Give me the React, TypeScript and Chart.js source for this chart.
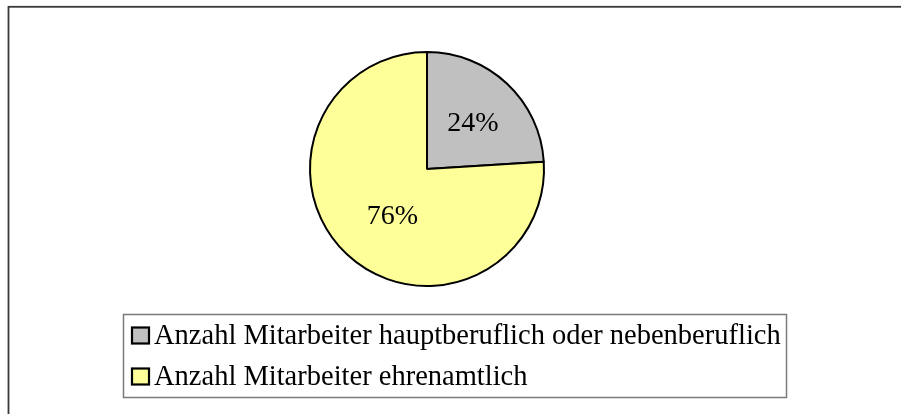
import React, { useEffect, useRef } from "react";
import { Chart, registerables } from "chart.js";

Chart.register(...registerables);

const categories = [
  "Anzahl Mitarbeiter hauptberuflich oder nebenberuflich",
  "Anzahl Mitarbeiter ehrenamtlich",
];
const shares = [24, 76];
const percentLabels = ["24%", "76%"];
const sliceColors = ["#C0C0C0", "#FFFF99"];

const FONT = "'Liberation Serif', 'Times New Roman', serif";

const framePlugin = {
  id: "frameAndLegend",
  beforeDraw(chart: any) {
    const ctx = chart.ctx;
    ctx.save();
    ctx.fillStyle = "#ffffff";
    ctx.fillRect(0, 0, chart.width, chart.height);
    ctx.strokeStyle = "#3a3a3a";
    ctx.lineWidth = 1.8;
    ctx.strokeRect(8.5, 6.8, chart.width + 20, chart.height + 20);
    ctx.restore();
  },
  afterDatasetsDraw(chart: any) {
    const ctx = chart.ctx;
    const meta = chart.getDatasetMeta(0);
    const factors = [0.56, 0.5];
    const angleShift = [0.02, -0.12];
    ctx.save();
    ctx.font = `28px ${FONT}`;
    ctx.fillStyle = "#000";
    ctx.textAlign = "center";
    ctx.textBaseline = "middle";
    meta.data.forEach((arc: any, i: number) => {
      const { x, y, startAngle, endAngle, outerRadius } = arc.getProps(
        ["x", "y", "startAngle", "endAngle", "outerRadius"],
        true
      );
      const mid = (startAngle + endAngle) / 2 + angleShift[i];
      const r = outerRadius * factors[i];
      ctx.fillText(percentLabels[i], x + Math.cos(mid) * r, y + Math.sin(mid) * r + 1);
    });
    ctx.restore();
  },
  afterDraw(chart: any) {
    const ctx = chart.ctx;
    ctx.save();
    ctx.font = `28.5px ${FONT}`;
    const boxLeft = 123.5;
    const boxTop = 314.5;
    const rowH = 41;
    const textX = 154;
    let maxW = 0;
    categories.forEach((c) => {
      maxW = Math.max(maxW, ctx.measureText(c).width);
    });
    const boxRight = Math.max(786.5, textX + maxW + 5);
    const boxBottom = boxTop + 83;
    ctx.strokeStyle = "#7a7a7a";
    ctx.lineWidth = 1.5;
    ctx.strokeRect(boxLeft, boxTop, boxRight - boxLeft, boxBottom - boxTop);
    categories.forEach((c, i) => {
      const baseline = 344 + i * rowH;
      ctx.fillStyle = sliceColors[i];
      ctx.fillRect(132, baseline - 16.5, 17, 16);
      ctx.strokeStyle = "#000";
      ctx.lineWidth = 2.2;
      ctx.strokeRect(132, baseline - 16.5, 17, 16);
      ctx.fillStyle = "#000";
      ctx.textBaseline = "alphabetic";
      ctx.textAlign = "left";
      ctx.fillText(c, textX, baseline);
    });
    ctx.restore();
  },
};

export default function App() {
  const ref = useRef<HTMLCanvasElement | null>(null);
  useEffect(() => {
    if (!ref.current) return;
    const chart = new Chart(ref.current, {
      type: "pie",
      data: {
        labels: categories,
        datasets: [
          {
            data: shares,
            backgroundColor: sliceColors,
            borderColor: "#000000",
            borderWidth: 2,
          },
        ],
      },
      options: {
        animation: false,
        responsive: true,
        maintainAspectRatio: false,
        layout: { padding: { top: 51, bottom: 127, left: 0, right: 47 } },
        plugins: {
          legend: { display: false },
          tooltip: { enabled: false },
        },
      },
      plugins: [framePlugin],
    });
    return () => chart.destroy();
  }, []);
  return (
    <div style={{ position: "absolute", left: 0, top: 0, width: 901, height: 414 }}>
      <canvas ref={ref} />
    </div>
  );
}
